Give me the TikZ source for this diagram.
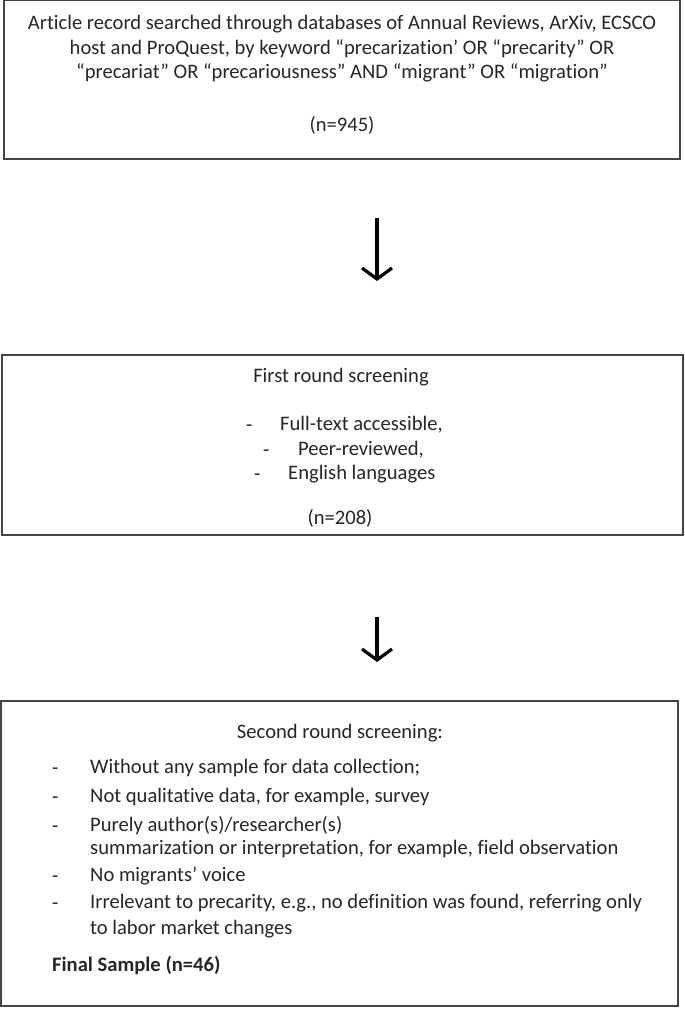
\documentclass[tikz,border=0pt]{standalone}
\usepackage{fontspec}
\setmainfont{Carlito}[Ligatures=NoCommon]
\usetikzlibrary{arrows.meta}
\definecolor{edge}{HTML}{444444}
\begin{document}
\begin{tikzpicture}[x=1pt,y=-1pt,
  frame/.style={draw=edge,line width=2pt},
  txt/.style={inner sep=0pt,font=\fontsize{20.6}{24}\selectfont,text=black!85},
  ctr/.style={txt,anchor=center},
  lft/.style={txt,anchor=west},
  dsh/.style={lft,yshift=-3.5pt},
  flow/.style={line width=3.4pt,-{Straight Barb[length=11pt,width=30pt,line width=3.2pt]}}]
\useasboundingbox (0,0) rectangle (685,1009);
% box 1
\draw[frame] (4,0) rectangle (680,159);
\node[ctr] (a1) at (342,24) {Article record searched through databases of Annual Reviews, ArXiv, ECSCO};
\node[ctr] (a2) at (342,49) {host and ProQuest, by keyword “precarization’ OR “precarity” OR};
\node[ctr] (a3) at (342,73) {“precariat” OR “precariousness” AND “migrant” OR “migration”};
\node[ctr] (a4) at (342,125) {(n=945)};
% arrow 1
\coordinate (p1) at (377,218);
\coordinate (q1) at (377,281);
\draw[flow] (p1) -- (q1);
% box 2
\draw[frame] (2,355) rectangle (683,535);
\node[ctr] (b1) at (341,377) {First round screening};
\node[dsh] (b2d) at (246,425) {-};
\node[lft] (b2) at (280,425) {Full-text accessible,};
\node[dsh] (b3d) at (263,450) {-};
\node[lft] (b3) at (298,450) {Peer-reviewed,};
\node[dsh] (b4d) at (254,474) {-};
\node[lft] (b4) at (288,474) {English languages};
\node[ctr] (b5) at (340,518) {(n=208)};
% arrow 2
\coordinate (p2) at (377,617);
\coordinate (q2) at (377,662);
\draw[flow] (p2) -- (q2);
% box 3
\draw[frame] (1,701) rectangle (678,1006);
\node[ctr] (c0) at (340,733) {Second round screening:};
\node[dsh] (c1d) at (52,768) {-};
\node[lft] (c1) at (90,768) {Without any sample for data collection;};
\node[dsh] (c2d) at (52,797) {-};
\node[lft] (c2) at (90,797) {Not qualitative data, for example, survey};
\node[dsh] (c3d) at (52,826) {-};
\node[lft] (c3) at (90,826) {Purely author(s)/researcher(s)};
\node[lft] (c3b) at (90,849) {summarization or interpretation, for example, field observation};
\node[dsh] (c4d) at (52,876) {-};
\node[lft] (c4) at (90,876) {No migrants’ voice};
\node[dsh] (c5d) at (52,903) {-};
\node[lft] (c5) at (90,903) {Irrelevant to precarity, e.g., no definition was found, referring only};
\node[lft] (c5b) at (90,929) {to labor market changes};
\node[lft,font=\fontsize{20.6}{24}\selectfont\bfseries] (c6) at (52,965) {Final Sample (n=46)};
\end{tikzpicture}
\end{document}
